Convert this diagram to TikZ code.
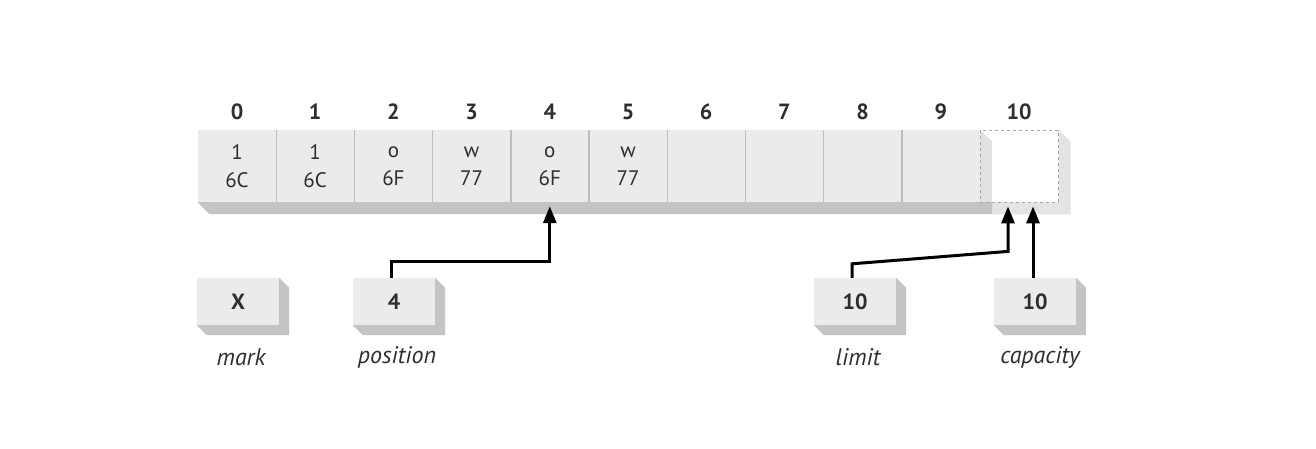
\documentclass[tikz,border=0pt]{standalone}
\usepackage{fontspec}
\setmainfont{PT Sans}
\usetikzlibrary{arrows.meta,calc,backgrounds}
\definecolor{face}{HTML}{EBEBEB}
\definecolor{side}{HTML}{C4C4C4}
\definecolor{ghostside}{HTML}{E4E4E4}
\definecolor{divider}{HTML}{BDBDBD}
\definecolor{ink}{HTML}{2E2E2E}
\tikzset{
  x=1pt, y=-1pt,
  cellbox/.style={minimum width=78.2pt, minimum height=72pt, inner sep=0pt, fill=face,
    align=center, font=\fontsize{21}{28}\selectfont, text=ink},
  ghostbox/.style={minimum width=78.2pt, minimum height=72pt, inner sep=0pt,
    fill=white, fill opacity=0.5, draw=black!35, dashed, line width=0.8pt},
  idx/.style={font=\fontsize{22}{24}\bfseries\selectfont, text=ink},
  regbox/.style={minimum width=82pt, minimum height=47pt, inner sep=0pt, fill=face,
    font=\fontsize{22}{24}\bfseries\selectfont, text=ink},
  lab/.style={font=\fontsize{24}{26}\itshape\selectfont, text=ink},
  arr/.style={line width=3pt, -{Triangle[length=17pt,width=13pt]}, line join=miter},
}
\begin{document}
\begin{tikzpicture}
\useasboundingbox (0,0) rectangle (1316,448);
% cells
\foreach \i/\t in {0/{1\\6C},1/{1\\6C},2/{o\\6F},3/{w\\77},4/{o\\6F},5/{w\\77},6/{},7/{},8/{},9/{}}{
  \node[cellbox] (c\i) at (237+78.2*\i,166) {\t};
  \node[idx] (i\i) at (237+78.2*\i,112) {\i};
}
\node[ghostbox] (c10) at (237+78.2*10,166) {};
\node[idx] (i10) at (237+78.2*10,112) {10};
% dividers
\foreach \i in {0,...,8}{
  \draw[divider, line width=1.4pt] (c\i.north east) -- (c\i.south east);
}
% register boxes
\node[regbox] (mark) at (238,301.5) {X};
\node[regbox] (position) at (394,301.5) {4};
\node[regbox] (limit) at (855,301.5) {10};
\node[regbox] (capacity) at (1035,301.5) {10};
\node[lab] (marklab) at (241,357) {mark};
\node[lab] (poslab) at (397,357) {position};
\node[lab] (limlab) at (858,357) {limit};
\node[lab] (caplab) at (1040,357) {capacity};
% shadows
\begin{scope}[on background layer]
  \fill[white] (0,0) rectangle (1316,448);
  \fill[ghostside] (c10.south west) -- (c10.south east) -- (c10.north east) -- ++(12,12)
     -- ([shift={(12pt,-12pt)}]c10.south east) -- ([shift={(12pt,-12pt)}]c10.south west) -- cycle;
  \fill[side] (c0.south west) -- (c9.south east) -- (c9.north east) -- ++(12,12)
     -- ([shift={(12pt,-12pt)}]c9.south east) -- ([shift={(12pt,-12pt)}]c0.south west) -- cycle;
  \foreach \n in {mark,position,limit,capacity}{
    \fill[side] (\n.south west) -- (\n.south east) -- (\n.north east) -- ++(10,10)
       -- ([shift={(10pt,-10pt)}]\n.south east) -- ([shift={(10pt,-10pt)}]\n.south west) -- cycle;
  }
\end{scope}
% arrows
\coordinate (postip) at ([yshift=-4pt]c4.south);
\draw[arr] ([xshift=-3pt]position.north) -- ++(0,-16) -| (postip);
\coordinate (limtip) at ([shift={(-11pt,-4pt)}]c10.south);
\coordinate (limbend) at ($(limtip)+(0,45)$);
\draw[arr] ([xshift=-3pt]limit.north) -- ++(0,-14) -- (limbend) -- (limtip);
\coordinate (captip) at ([shift={(14pt,-4pt)}]c10.south);
\draw[arr] (capacity.north -| captip) -- (captip);
\end{tikzpicture}
\end{document}
